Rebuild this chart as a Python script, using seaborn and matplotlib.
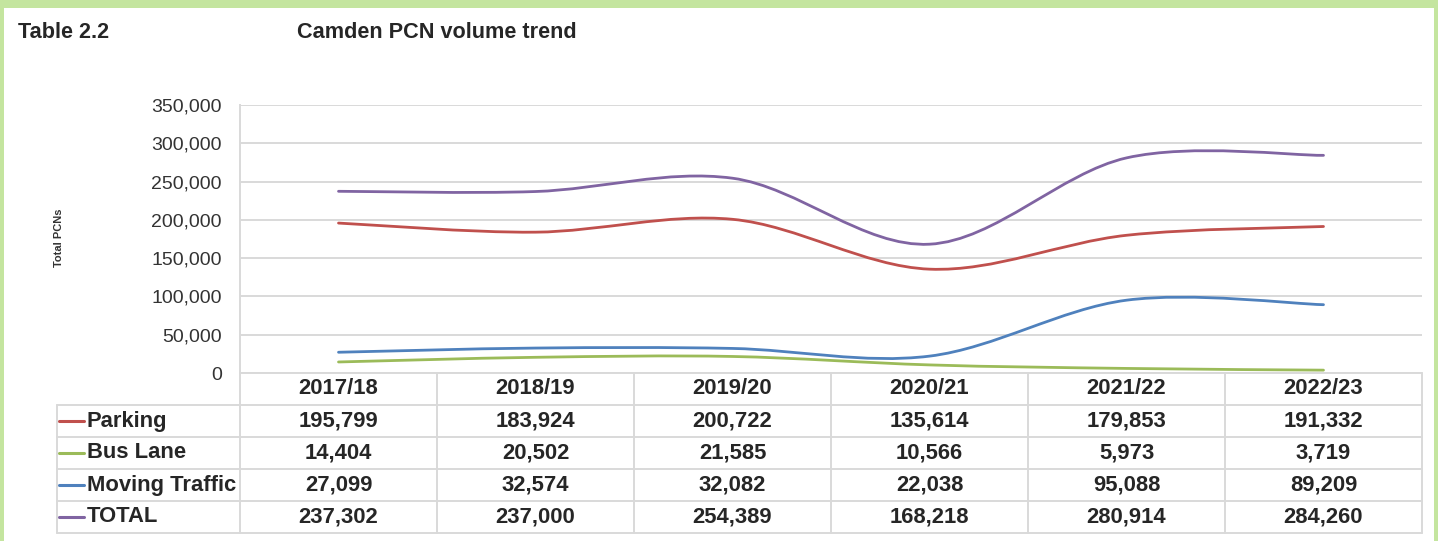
import matplotlib.pyplot as plt
import numpy as np
import seaborn as sns
from matplotlib.lines import Line2D
from matplotlib.path import Path
from matplotlib.patches import PathPatch, Rectangle
from matplotlib.transforms import blended_transform_factory

years = ["2017/18", "2018/19", "2019/20", "2020/21", "2021/22", "2022/23"]
parking = [195799, 183924, 200722, 135614, 179853, 191332]
bus_lane = [14404, 20502, 21585, 10566, 5973, 3719]
moving_traffic = [27099, 32574, 32082, 22038, 95088, 89209]
total = [237302, 237000, 254389, 168218, 280914, 284260]

series = [
    ("Parking", parking, "#C0504D"),
    ("Bus Lane", bus_lane, "#9BBB59"),
    ("Moving Traffic", moving_traffic, "#4F81BD"),
    ("TOTAL", total, "#8064A2"),
]

W, H = 1438, 541


def fx(x):
    return x / W


def fy(y):
    return 1 - y / H


def smooth_path(xs, ys):
    """Excel-like smoothed line: cubic bezier through every point."""
    pts = np.column_stack([xs, ys]).astype(float)
    n = len(pts)
    verts = [pts[0]]
    codes = [Path.MOVETO]
    for i in range(n - 1):
        p0 = pts[i - 1] if i > 0 else pts[i]
        p1, p2 = pts[i], pts[i + 1]
        p3 = pts[i + 2] if i + 2 < n else pts[i + 1]
        c1 = p1 + (p2 - p0) / 6
        c2 = p2 - (p3 - p1) / 6
        verts += [c1, c2, p2]
        codes += [Path.CURVE4] * 3
    return Path(verts, codes)


sns.set_style("white")
plt.rcParams["font.family"] = ["Liberation Sans", "DejaVu Sans"]

fig = plt.figure(figsize=(W / 100, H / 100), dpi=100)
fig.patch.set_facecolor("white")

# green frame
green = "#C4E59F"
fig.add_artist(Rectangle((0, fy(8)), 1, 8 / H, transform=fig.transFigure,
                         color=green, lw=0))
fig.add_artist(Rectangle((0, 0), 4 / W, 1, transform=fig.transFigure,
                         color=green, lw=0))
fig.add_artist(Rectangle((fx(1434), 0), 4 / W, 1, transform=fig.transFigure,
                         color=green, lw=0))

ax = fig.add_axes([fx(240), fy(373), (1422 - 240) / W, (373 - 105) / H])
ax.set_xlim(0, len(years))
ax.set_ylim(0, 350000)
ax.set_yticks(np.arange(0, 350001, 50000))
ax.set_yticklabels([f"{v:,}" for v in range(0, 350001, 50000)])
ax.set_xticks([])
ax.tick_params(axis="y", length=0, pad=13, labelsize=14, labelcolor="#333333")
ax.grid(axis="y", color="#D9D9D9", lw=1.4)
ax.set_axisbelow(True)
for side in ["top", "right", "bottom"]:
    ax.spines[side].set_visible(False)
ax.spines["left"].set_color("#D9D9D9")
ax.spines["left"].set_linewidth(1.4)

xs = np.arange(len(years)) + 0.5
for name, vals, color in series:
    ax.add_patch(PathPatch(smooth_path(xs, vals), fill=False, edgecolor=color,
                           lw=2.0, capstyle="round", joinstyle="round"))

fig.text(fx(18), fy(32), "Table 2.2", fontsize=15.6, fontweight="bold",
         va="center", ha="left")
fig.text(fx(297), fy(32), "Camden PCN volume trend", fontsize=15.6,
         fontweight="bold", va="center", ha="left")
fig.text(fx(59), fy(238), "Total PCNs", fontsize=8, fontweight="bold",
         rotation=90, va="center", ha="center", color="#333333")

# data table under the chart
grid_c = "#D9D9D9"
row_y = [373, 405, 437, 469, 501, 533]
left_x, label_r, right_x = 57, 240, 1422
col_x = [240 + 197 * i for i in range(len(years) + 1)]
tsize = 15.8


def hline(y, x0, x1):
    fig.add_artist(Line2D([fx(x0), fx(x1)], [fy(y), fy(y)], color=grid_c,
                          lw=1.4, transform=fig.transFigure))


def vline(x, y0, y1):
    fig.add_artist(Line2D([fx(x), fx(x)], [fy(y0), fy(y1)], color=grid_c,
                          lw=1.4, transform=fig.transFigure))


hline(row_y[0], label_r, right_x)
for y in row_y[1:]:
    hline(y, left_x, right_x)
vline(left_x, row_y[1], row_y[-1])
vline(label_r, row_y[0], row_y[-1])
for x in col_x[1:]:
    vline(x, row_y[0], row_y[-1])

trans = blended_transform_factory(ax.transData, fig.transFigure)
for i, yr in enumerate(years):
    fig.text(xs[i], fy((row_y[0] + row_y[1]) / 2), yr, transform=trans,
             ha="center", va="center", fontsize=tsize, fontweight="bold")

for r, (name, vals, color) in enumerate(series):
    yc = fy((row_y[r + 1] + row_y[r + 2]) / 2)
    fig.add_artist(Line2D([fx(59), fx(84)], [yc, yc], color=color, lw=2.2,
                          transform=fig.transFigure))
    fig.text(fx(87), yc, name, ha="left", va="center", fontsize=tsize,
             fontweight="bold")
    for i, v in enumerate(vals):
        fig.text(xs[i], yc, f"{v:,}", transform=trans, ha="center",
                 va="center", fontsize=tsize, fontweight="bold")

fig.savefig("out.png", dpi=100)
